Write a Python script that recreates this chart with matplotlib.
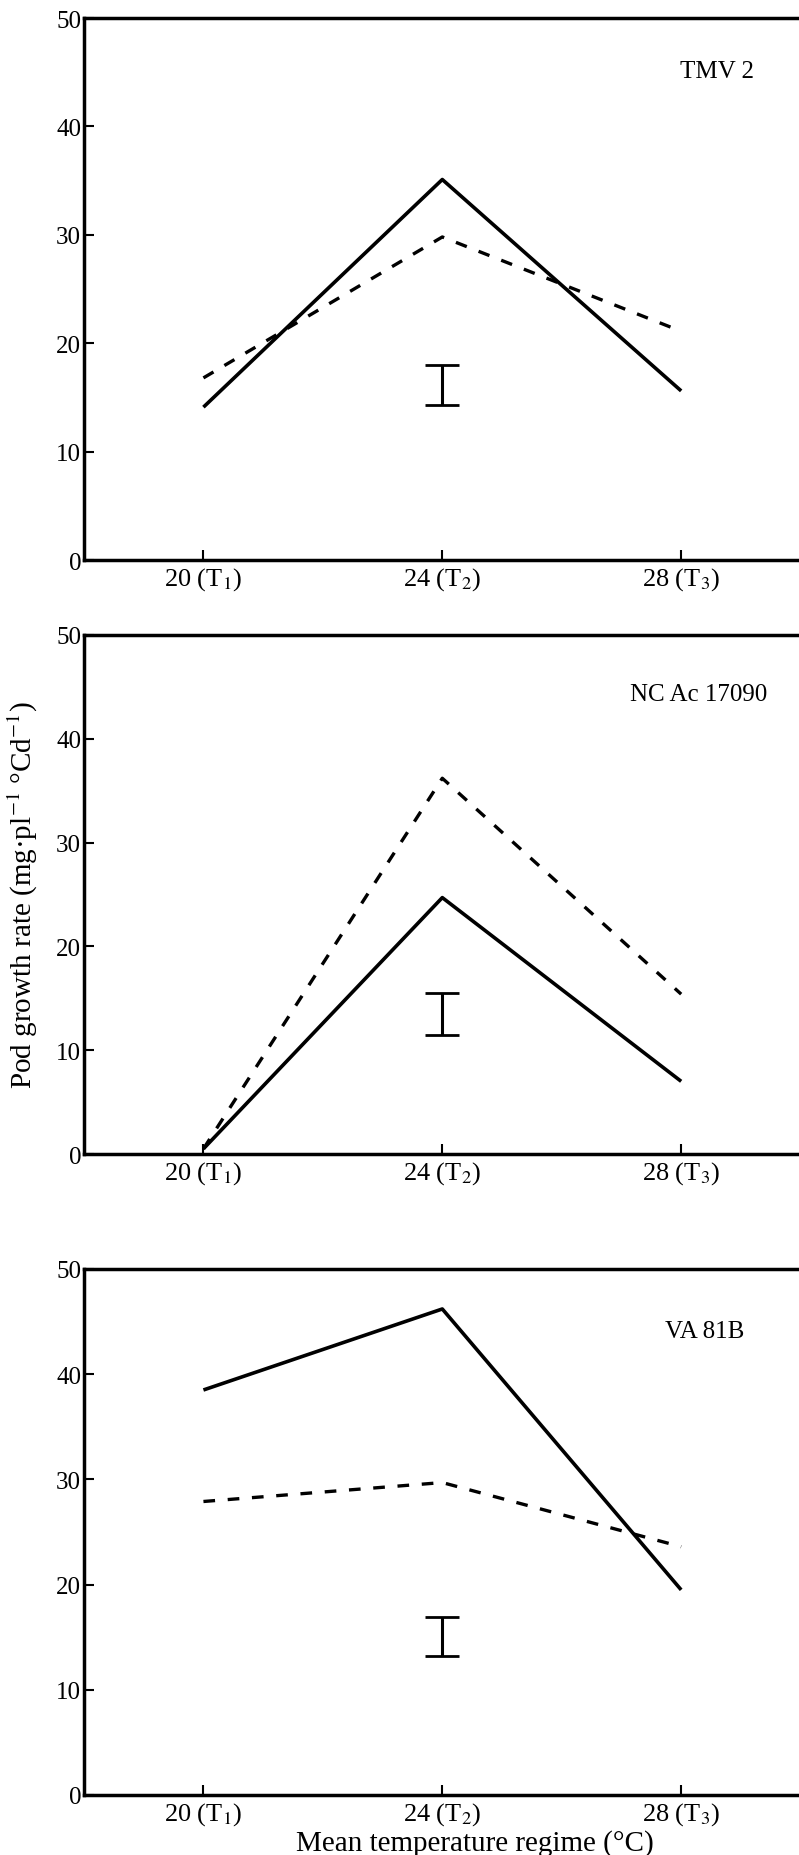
import matplotlib
matplotlib.use('Agg')
import matplotlib.pyplot as plt

plt.rcParams['font.family'] = ['Liberation Serif', 'DejaVu Serif']
plt.rcParams['mathtext.fontset'] = 'stix'

temps = [20, 24, 28]
xtick_labels = ['20 (T$_1$)', '24 (T$_2$)', '28 (T$_3$)']
yticks = [0, 10, 20, 30, 40, 50]
cultivars = ['TMV 2', 'NC Ac 17090', 'VA 81B']

# solid and dashed series, one list per cultivar
solid_tmv2 = [14.1, 35.1, 15.6]
dashed_tmv2 = [16.8, 29.8, 21.1]
solid_ncac = [0.5, 24.7, 7.0]
dashed_ncac = [0.5, 36.2, 15.4]
solid_va81b = [38.5, 46.2, 19.5]
dashed_va81b = [27.9, 29.7, 23.6]

# LSD bar (low, high) drawn at 24 degC
lsd_x = 24
lsd_tmv2 = [14.3, 18.0]
lsd_ncac = [11.5, 15.5]
lsd_va81b = [13.2, 16.9]

solids = [solid_tmv2, solid_ncac, solid_va81b]
dasheds = [dashed_tmv2, dashed_ncac, dashed_va81b]
lsds = [lsd_tmv2, lsd_ncac, lsd_va81b]

W, H = 799, 1856
fig = plt.figure(figsize=(W/100, H/100), dpi=100)

# (top, bottom) pixel positions of each panel
panels = [(19, 561), (636, 1155), (1270, 1796)]
left_px = 84
label_pos = [(28.6, 45.1), (28.3, 44.3), (28.4, 44.1)]

axes = []
for k, (top, bot) in enumerate(panels):
    ax = fig.add_axes([left_px/W, 1 - bot/H, (W - left_px)/W + 0.002, (bot - top)/H])
    ax.plot(temps, solids[k], color='black', lw=2.6, solid_capstyle='butt')
    ax.plot(temps, dasheds[k], color='black', lw=2.4, dashes=(3.5, 3.8))
    lo, hi = lsds[k]
    ax.errorbar([lsd_x], [(lo + hi)/2], yerr=[[(hi - lo)/2]], fmt='none',
                ecolor='black', elinewidth=2.2, capsize=12, capthick=2.0)
    ax.text(label_pos[k][0], label_pos[k][1], cultivars[k], ha='center', va='center',
            fontsize=18)
    ax.set_xlim(18, 30)
    ax.set_ylim(0, 50)
    ax.set_xticks(temps)
    ax.set_xticklabels(xtick_labels, fontsize=19)
    ax.set_yticks(yticks)
    ax.set_yticklabels([str(v) for v in yticks], fontsize=18)
    ax.tick_params(direction='in', length=7, width=1.5, pad=4)
    ax.tick_params(axis='y', pad=2)
    for s in ax.spines.values():
        s.set_linewidth(2.5)
    axes.append(ax)

axes[1].set_ylabel('Pod growth rate (mg·pl$^{-1}$ °Cd$^{-1}$)', fontsize=21)
axes[1].yaxis.set_label_coords(-0.062, 0.5)
axes[2].set_xlabel('Mean temperature regime (°C)', fontsize=21)
axes[2].xaxis.set_label_coords(0.545, -0.065)

fig.savefig('out.png', dpi=100)
